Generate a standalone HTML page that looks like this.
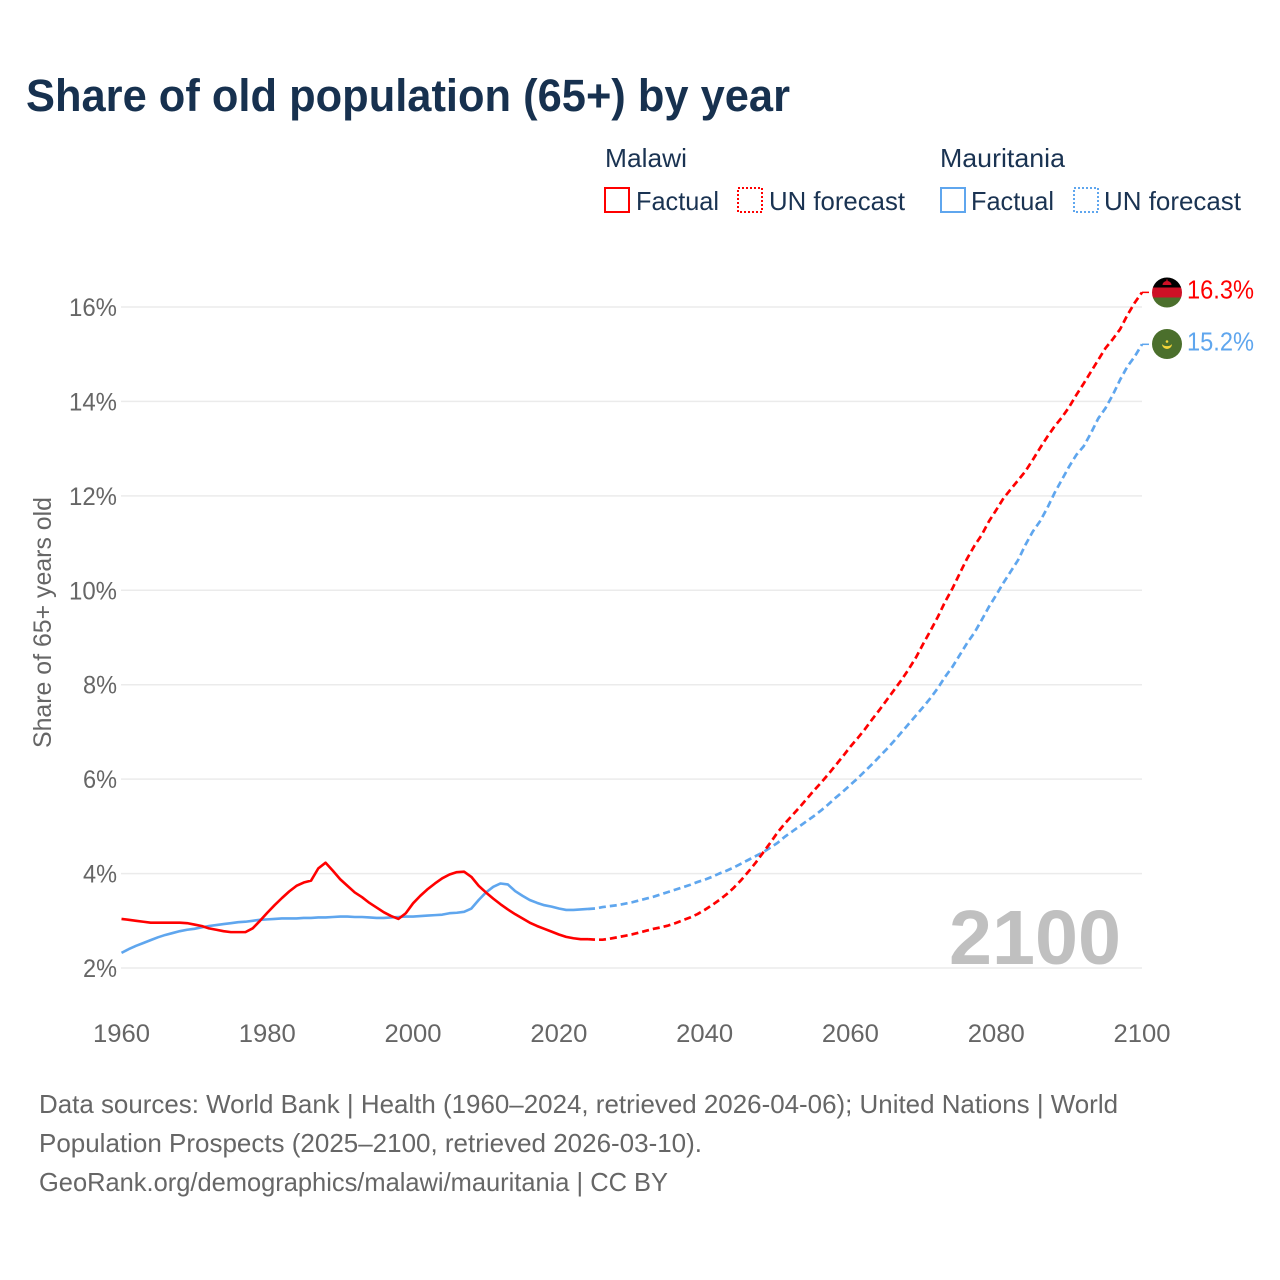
<!DOCTYPE html>
<html lang="en">
<head>
<meta charset="utf-8">
<title>Share of old population (65+) by year</title>
<style>
html,body{margin:0;padding:0;background:#fff;}
svg{display:block;}
text{font-family:"Liberation Sans",sans-serif;}
</style>
</head>
<body>
<svg id="chart" xmlns="http://www.w3.org/2000/svg" width="1280" height="1280" viewBox="0 0 1280 1280">
  <rect x="0" y="0" width="1280" height="1280" fill="#ffffff"/>
  <text x="26" y="111" font-size="45" font-weight="700" fill="#17314f" textLength="764" lengthAdjust="spacingAndGlyphs">Share of old population (65+) by year</text>

  <g font-size="26" fill="#1a3352">
    <text x="605" y="167" textLength="82" lengthAdjust="spacingAndGlyphs">Malawi</text>
    <rect x="605" y="188" width="24" height="24" fill="none" stroke="#ff0000" stroke-width="2"/>
    <text x="636" y="210" textLength="83" lengthAdjust="spacingAndGlyphs">Factual</text>
    <rect x="738" y="188" width="24" height="24" fill="none" stroke="#ff0000" stroke-width="2" stroke-dasharray="2 2"/>
    <text x="769" y="210" textLength="136" lengthAdjust="spacingAndGlyphs">UN forecast</text>
    <text x="940" y="167" textLength="125" lengthAdjust="spacingAndGlyphs">Mauritania</text>
    <rect x="941" y="188" width="24" height="24" fill="none" stroke="#5fa6ee" stroke-width="2"/>
    <text x="971" y="210" textLength="83" lengthAdjust="spacingAndGlyphs">Factual</text>
    <rect x="1074" y="188" width="24" height="24" fill="none" stroke="#5fa6ee" stroke-width="2" stroke-dasharray="2 2"/>
    <text x="1104" y="210" textLength="137" lengthAdjust="spacingAndGlyphs">UN forecast</text>
  </g>

  <text transform="translate(51,748) rotate(-90)" font-size="25" fill="#666666" textLength="251" lengthAdjust="spacingAndGlyphs">Share of 65+ years old</text>

  <g id="grid"></g>
  <g id="yticks"></g>
  <g id="xticks"></g>

  <text x="949" y="964" font-size="77" font-weight="700" fill="#c0c0c0" textLength="172" lengthAdjust="spacingAndGlyphs">2100</text>

  <g id="series"></g>

  <g id="flag-malawi">
    <clipPath id="clip-malawi"><circle cx="1167" cy="292.5" r="15"/></clipPath>
    <g clip-path="url(#clip-malawi)">
      <rect x="1150" y="275" width="34" height="12.5" fill="#000000"/>
      <rect x="1150" y="287.5" width="34" height="10" fill="#ce1126"/>
      <rect x="1150" y="297.5" width="34" height="13" fill="#4b6f2c"/>
      <path d="M1162.5 285 a4.5 4 0 0 1 9 0 z M1166.4 279.5 h1.2 v1.5 h-1.2 z" fill="#ce1126"/>
    </g>
  </g>
  <g id="flag-mauritania">
    <circle cx="1167" cy="344" r="15" fill="#4b6f2c"/>
    <path d="M1162 344 a5 5 0 0 0 10 0 a5.5 3.6 0 0 1 -10 0 z" fill="#f4d63a"/>
    <circle cx="1167" cy="341.5" r="1.3" fill="#f4d63a"/>
  </g>

  <g font-size="26" fill="#666666">
    <text x="39" y="1113" textLength="1079" lengthAdjust="spacingAndGlyphs">Data sources: World Bank | Health (1960–2024, retrieved 2026-04-06); United Nations | World</text>
    <text x="39" y="1152" textLength="663" lengthAdjust="spacingAndGlyphs">Population Prospects (2025–2100, retrieved 2026-03-10).</text>
    <text x="39" y="1191" textLength="629" lengthAdjust="spacingAndGlyphs">GeoRank.org/demographics/malawi/mauritania | CC BY</text>
  </g>
</svg>
<script>
const yTickValues = [2, 4, 6, 8, 10, 12, 14, 16];
const xTickValues = [1960, 1980, 2000, 2020, 2040, 2060, 2080, 2100];
const firstYear = 1960;
const lastFactualYear = 2024;

const malawiValues = [
  3.04,3.02,3.00,2.98,2.96,2.96,2.96,2.96,2.96,2.95,
  2.92,2.89,2.84,2.81,2.78,2.76,2.76,2.76,2.84,3.00,
  3.17,3.33,3.48,3.62,3.74,3.81,3.85,4.11,4.23,4.06,
  3.88,3.74,3.60,3.50,3.38,3.28,3.18,3.10,3.04,3.16,
  3.37,3.53,3.67,3.79,3.90,3.98,4.03,4.04,3.93,3.74,
  3.60,3.47,3.35,3.24,3.14,3.05,2.96,2.89,2.83,2.77,
  2.71,2.66,2.63,2.61,2.61,
  2.60,2.60,2.62,2.65,2.68,
  2.71,2.75,2.79,2.83,2.86,2.90,2.95,3.01,3.07,3.14,
  3.23,3.33,3.44,3.56,3.70,3.86,4.04,4.23,4.44,4.65,
  4.87,5.06,5.23,5.40,5.58,5.76,5.93,6.11,6.30,6.49,
  6.69,6.87,7.06,7.27,7.47,7.68,7.89,8.10,8.33,8.58,
  8.87,9.15,9.44,9.76,10.04,10.36,10.67,10.94,11.17,11.46,
  11.70,11.95,12.14,12.33,12.52,12.76,13.01,13.25,13.47,13.66,
  13.88,14.14,14.38,14.63,14.88,15.13,15.32,15.53,15.83,16.09,
  16.31
];

const mauritaniaValues = [
  2.32,2.40,2.47,2.53,2.59,2.65,2.70,2.74,2.78,2.81,
  2.83,2.86,2.89,2.91,2.93,2.95,2.97,2.98,3.00,3.02,
  3.03,3.04,3.05,3.05,3.05,3.06,3.06,3.07,3.07,3.08,
  3.09,3.09,3.08,3.08,3.07,3.06,3.06,3.07,3.08,3.09,
  3.09,3.10,3.11,3.12,3.13,3.16,3.17,3.19,3.26,3.44,
  3.60,3.72,3.79,3.77,3.63,3.53,3.44,3.38,3.33,3.30,
  3.26,3.23,3.23,3.24,3.25,
  3.26,3.29,3.31,3.33,3.36,
  3.39,3.43,3.47,3.51,3.56,3.61,3.66,3.71,3.76,3.82,
  3.87,3.93,4.00,4.06,4.13,4.21,4.29,4.37,4.45,4.55,
  4.65,4.78,4.89,5.00,5.11,5.22,5.34,5.47,5.61,5.74,
  5.88,6.02,6.17,6.32,6.48,6.64,6.81,6.99,7.17,7.35,
  7.53,7.72,7.93,8.17,8.38,8.63,8.88,9.10,9.37,9.65,
  9.90,10.16,10.40,10.64,10.96,11.24,11.46,11.74,12.06,12.34,
  12.62,12.87,13.05,13.33,13.64,13.86,14.14,14.46,14.74,14.95,
  15.21
];

const malawiEndLabel = "16.3%";
const mauritaniaEndLabel = "15.2%";

const NS = "http://www.w3.org/2000/svg";
function xScale(year) { return 121.5 + (year - 1960) * (1142 - 121.5) / 140; }
function yScale(value) { return 968 - (value - 2) * (968 - 307) / 14; }

function make(tag, attrs, parent) {
  const el = document.createElementNS(NS, tag);
  for (const k in attrs) el.setAttribute(k, attrs[k]);
  parent.appendChild(el);
  return el;
}

const grid = document.getElementById("grid");
const yticks = document.getElementById("yticks");
const xticks = document.getElementById("xticks");
const series = document.getElementById("series");

yTickValues.forEach(function (v) {
  const line = make("line", {x1: 121, x2: 1142, y1: yScale(v), y2: yScale(v), stroke: "#ebebeb", "stroke-width": 1.5}, grid);
  
  
  const label = v + "%";
  const t = make("text", {x: 117, y: yScale(v) + 9, "text-anchor": "end", "font-size": 25, fill: "#666666", textLength: v >= 10 ? 48 : 34, lengthAdjust: "spacingAndGlyphs"}, yticks);
  
  
  t.textContent = label;
});

xTickValues.forEach(function (yr) {
  const t = make("text", {x: xScale(yr), y: 1042, "text-anchor": "middle", "font-size": 25, fill: "#666666", textLength: 57, lengthAdjust: "spacingAndGlyphs"}, xticks);
  
  
  t.textContent = yr;
});

function pathFrom(values, startIdx, endIdx) {
  let d = "";
  for (let i = startIdx; i <= endIdx && i < values.length; i++) {
    d += (i === startIdx ? "M" : "L") + xScale(firstYear + i).toFixed(2) + " " + yScale(values[i]).toFixed(2);
  }
  return d;
}

function drawSeries(values, color, endLabel, flagX) {
  const split = lastFactualYear - firstYear;
  const last = values.length - 1;
  const factual = make("path", {d: pathFrom(values, 0, split), fill: "none", stroke: color, "stroke-width": 2.6, "stroke-linejoin": "round"}, series);
  
  
  const forecast = make("path", {d: pathFrom(values, split, last), fill: "none", stroke: color, "stroke-width": 2.7, "stroke-dasharray": "7 4", "stroke-linejoin": "round"}, series);
  
  
  const ey = yScale(values[last]);
  const conn = make("line", {x1: xScale(firstYear + last), x2: flagX, y1: ey, y2: ey, stroke: color, "stroke-width": 1.5}, series);
  
  
  const t = make("text", {x: 1187, y: ey + 6.3, "font-size": 26, fill: color, textLength: 67, lengthAdjust: "spacingAndGlyphs"}, series);
  
  
  t.textContent = endLabel;
}

drawSeries(mauritaniaValues, "#5fa6ee", mauritaniaEndLabel, 1149);
drawSeries(malawiValues, "#ff0000", malawiEndLabel, 1149);
</script>
</body>
</html>
